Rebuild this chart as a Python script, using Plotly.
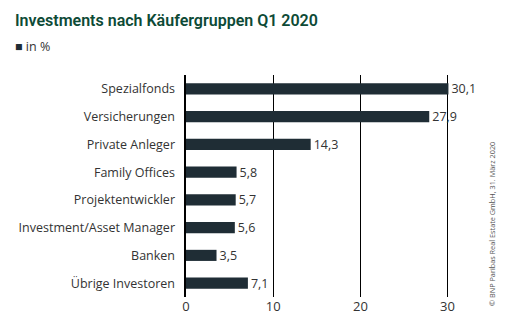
import plotly.graph_objects as go

categories = ["Spezialfonds", "Versicherungen", "Private Anleger", "Family Offices",
              "Projektentwickler", "Investment/Asset Manager", "Banken", "Übrige Investoren"]
values = [30.1, 27.9, 14.3, 5.8, 5.7, 5.6, 3.5, 7.1]
labels = ["30,1", "27,9", "14,3", "5,8", "5,7", "5,6", "3,5", "7,1"]
tick_vals = [0, 10, 20, 30]

bar_color = "#1f2d35"
font_fam = "Open Sans, Roboto, sans-serif"

fig = go.Figure(go.Bar(
    y=categories, x=values, orientation="h",
    marker=dict(color=bar_color, line=dict(width=0)),
    width=0.4,
    text=labels, textposition="outside", cliponaxis=False, constraintext="none",
    textfont=dict(size=12.5, color="#333333", family=font_fam),
    showlegend=False,
))

fig.update_layout(
    width=507, height=326,
    margin=dict(l=186, r=42, t=75, b=29),
    plot_bgcolor="white", paper_bgcolor="white",
    font=dict(family=font_fam, size=12.5, color="#333333"),
    xaxis=dict(range=[0, 32], tickvals=tick_vals, showgrid=True, gridcolor="black",
               gridwidth=1, zeroline=False, showline=False, ticks="",
               tickfont=dict(size=13, color="#333333"), fixedrange=True),
    yaxis=dict(autorange="reversed", showgrid=False, zeroline=False, ticks="",
               showline=True, linecolor="black", linewidth=2, ticksuffix="  ",
               tickfont=dict(size=12.5, color="#333333")),
    bargap=0.6,
    annotations=[
        dict(text="Investments nach Käufergruppen Q1 2020", x=0, xref="paper", xanchor="left",
             xshift=-173, y=1, yref="paper", yanchor="bottom", yshift=43, showarrow=False,
             font=dict(size=16, color="#0d4a36", family="Roboto, sans-serif", weight=600)),
        dict(text="<span style='color:#1f2d35'>■</span> in %", x=0, xref="paper", xanchor="left",
             xshift=-173, y=1, yref="paper", yanchor="bottom", yshift=18, showarrow=False,
             font=dict(size=12.5, color="#333333")),
        dict(text="© BNP Paribas Real Estate GmbH, 31. März 2020", x=1, xref="paper", xanchor="center",
             xshift=27, y=0.5, yref="paper", yanchor="middle", yshift=-38, showarrow=False,
             textangle=-90, font=dict(size=7.3, color="#555555")),
    ],
)

fig.write_html("out.html")
